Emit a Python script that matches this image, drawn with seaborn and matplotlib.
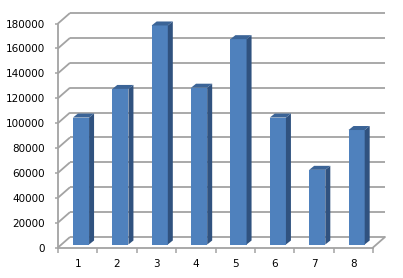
import matplotlib
matplotlib.use("Agg")
import matplotlib.pyplot as plt
import seaborn as sns
from matplotlib.patches import Polygon

categories = ["1", "2", "3", "4", "5", "6", "7", "8"]
values = [102000, 125000, 176000, 126000, 165000, 102000, 60000, 92000]
yticks = [0, 20000, 40000, 60000, 80000, 100000, 120000, 140000, 160000, 180000]

FRONT = "#4F81BD"
SIDE = "#30527F"
TOP = "#3B6497"
GRID = "#a3a3a3"

sns.set_style("white")
plt.rcParams["font.family"] = ["DejaVu Sans"]

fig = plt.figure(figsize=(4.03, 2.78), dpi=100)
ax = fig.add_axes([58 / 403, (278 - 247.5) / 278, 315 / 403, 224 / 278])
ax.set_xlim(-0.5, 7.5)
ax.set_ylim(0, 180000)

sns.barplot(x=categories, y=values, order=categories, color=FRONT,
            saturation=1, width=0.41, ax=ax, linewidth=0, zorder=3)
ax.set_xlim(-0.5, 7.5)
ax.set_ylim(0, 180000)

# pixel -> data conversion
p0 = ax.transData.transform((0, 0))
p1 = ax.transData.transform((1, 1))
sx = p1[0] - p0[0]
sy = p1[1] - p0[1]

def d(px, py):
    return px / sx, py / sy

wdx, wdy = d(12, 10.5)   # back wall offset
fdx, fdy = d(3.3, 3.0)   # bar front face depth
bdx, bdy = d(5, 4)       # bar depth

# walls / gridlines
for g in yticks:
    ax.plot([-0.5, -0.5 + wdx], [g, g + wdy], color=GRID, lw=1.3,
            clip_on=False, zorder=1, solid_capstyle="butt")
    ax.plot([-0.5 + wdx, 7.5 + wdx], [g + wdy, g + wdy], color=GRID, lw=1.3,
            clip_on=False, zorder=1, solid_capstyle="butt")
ax.plot([7.5, 7.5 + wdx], [0, wdy], color=GRID, lw=1.3, clip_on=False, zorder=1)

# 3D bars
for p in list(ax.patches):
    w = p.get_width()
    h = p.get_height()
    x0 = p.get_x() + fdx
    y0 = fdy
    p.set_x(x0)
    p.set_y(y0)
    p.set_clip_on(False)
    side = Polygon([(x0 + w, y0), (x0 + w + bdx, y0 + bdy),
                    (x0 + w + bdx, y0 + h + bdy), (x0 + w, y0 + h)],
                   closed=True, facecolor=SIDE, edgecolor="none",
                   clip_on=False, zorder=3)
    top = Polygon([(x0, y0 + h), (x0 + bdx, y0 + h + bdy),
                   (x0 + w + bdx, y0 + h + bdy), (x0 + w, y0 + h)],
                  closed=True, facecolor=TOP, edgecolor="none",
                  clip_on=False, zorder=3)
    ax.add_patch(side)
    ax.add_patch(top)

# axes styling
for s in ["top", "right"]:
    ax.spines[s].set_visible(False)
for s in ["left", "bottom"]:
    ax.spines[s].set_color(GRID)
    ax.spines[s].set_linewidth(1.3)

ax.set_yticks(yticks)
ax.set_yticklabels([str(v) for v in yticks])
ax.tick_params(axis="y", length=2.2, width=1.1, color=GRID, pad=7.2,
               labelsize=7.5, labelcolor="black", direction="out", left=True)

ax.set_xticks(range(len(categories)))
ax.set_xticklabels(categories)
ax.set_xticks([i - 0.5 for i in range(len(categories) + 1)], minor=True)
ax.tick_params(axis="x", which="major", length=0, pad=8.3, labelsize=7.5,
               labelcolor="black")
ax.tick_params(axis="x", which="minor", length=3.6, width=1.1, color=GRID,
               direction="out", bottom=True)
ax.set_xlabel("")
ax.set_ylabel("")
ax.grid(False)

fig.savefig("out.png", dpi=100)
